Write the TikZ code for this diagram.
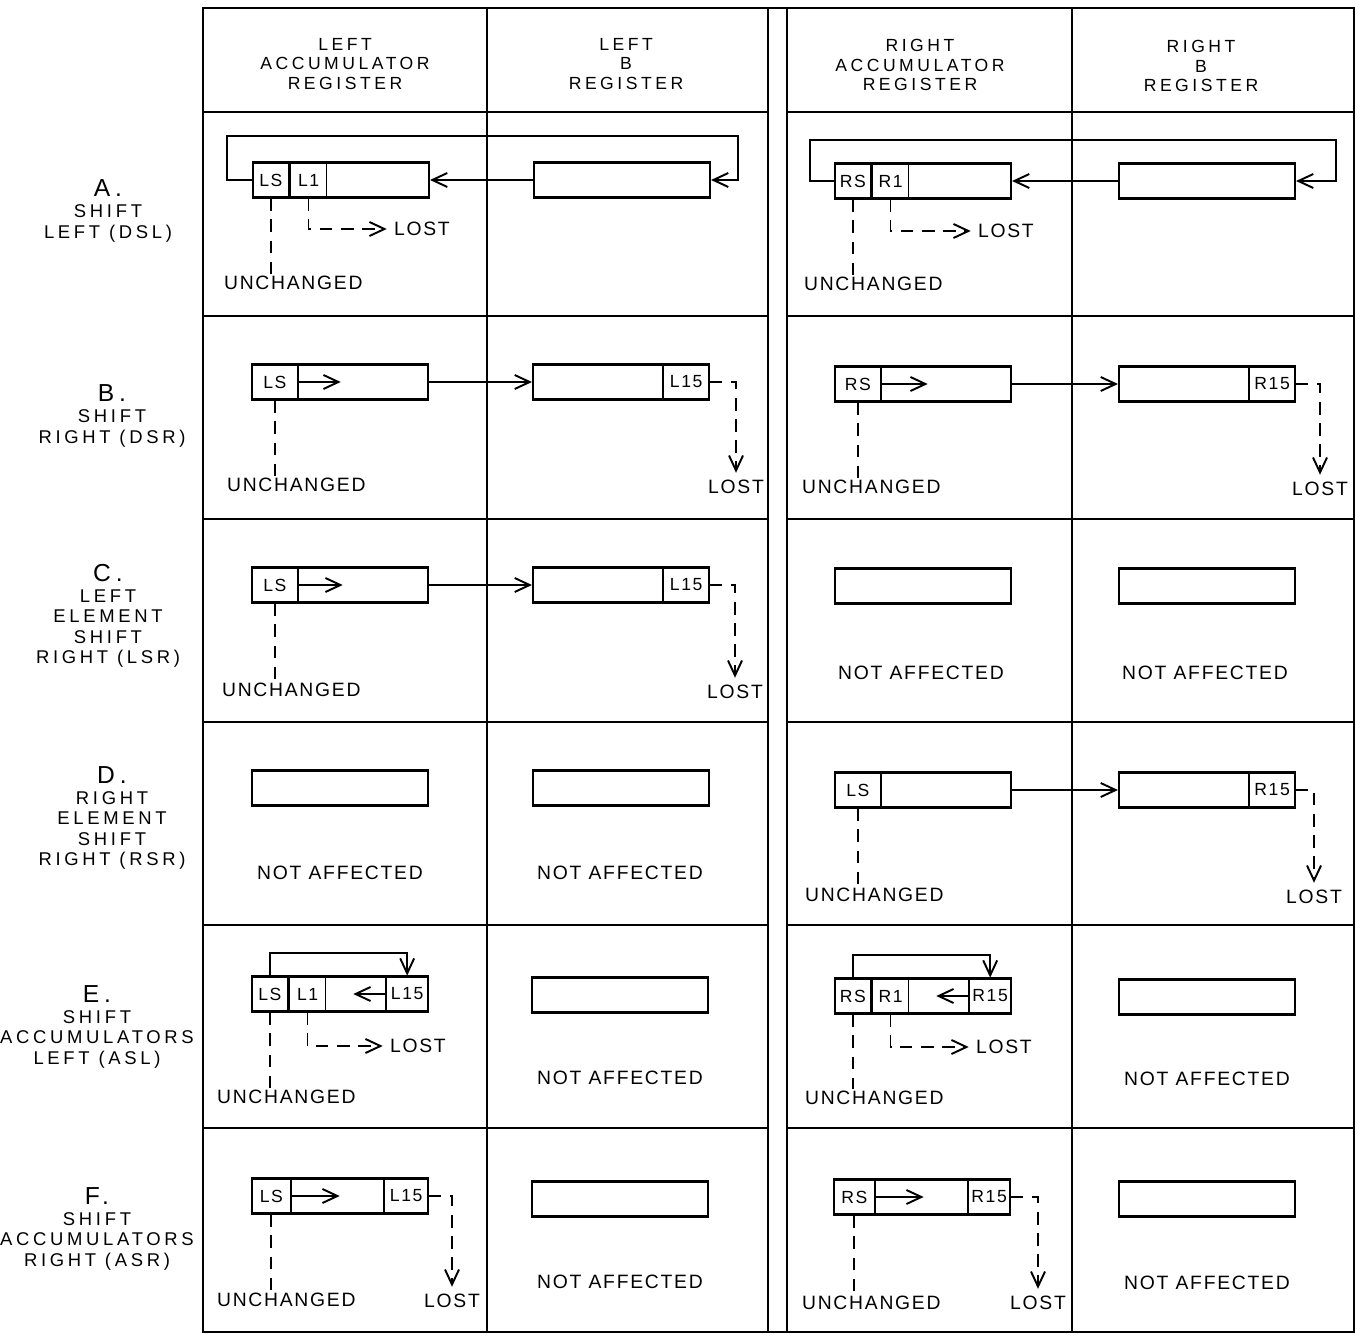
\documentclass[tikz,border=0pt]{standalone}
\usepackage{fontspec}
\setmainfont{Liberation Sans}
\newfontfamily\hdfont{Liberation Sans}[LetterSpace=20]
\newfontfamily\txfont{Liberation Sans}[LetterSpace=9]
\usetikzlibrary{arrows.meta}
\begin{document}
\begin{tikzpicture}[x=0.02cm, y=-0.02cm,
  reg/.style={draw,line width=1.2pt,minimum width=3.52cm,minimum height=0.7cm,inner sep=0pt},
  cell/.style={draw,line width=1pt,minimum height=0.7cm,minimum width=0.72cm,inner sep=0pt,font=\txfont\fontsize{10}{12}\selectfont},
  wcell/.style={cell,minimum width=0.92cm},
  arr/.style={line width=1pt,-{Straight Barb[length=3mm,width=2.8mm,line width=1.1pt]}},
  dsh/.style={line width=1pt,dash pattern=on 7pt off 5pt},
  dsha/.style={dsh,arr,shorten >=3pt},
  note/.style={font=\txfont\fontsize{11}{13}\selectfont,inner sep=1pt},
  head/.style={font=\hdfont\fontsize{10}{11.2}\selectfont,align=center},
  rowlbl/.style={font=\hdfont\fontsize{10.5}{11.7}\selectfont,align=center},
  gridline/.style={line width=1.3pt}]
\useasboundingbox (0,0) rectangle (1355,1334);
% table frame
\draw[gridline] (203,8) rectangle (1354,1332);
\foreach \x in {487,768,787,1072} \draw[gridline] (\x,8) -- (\x,1332);
\foreach \y in {112,316,519,722,925,1128} {
  \draw[gridline] (203,\y) -- (768,\y);
  \draw[gridline] (787,\y) -- (1354,\y);
}
% column heads
\node[head] (h1) at (345,64) {LEFT\\ACCUMULATOR\\REGISTER};
\node[head] (h2) at (626,64) {LEFT\\B\\REGISTER};
\node[head] (h3) at (920,65) {RIGHT\\ACCUMULATOR\\REGISTER};
\node[head] (h4) at (1201,66) {RIGHT\\B\\REGISTER};
% row heads
\node[rowlbl] (ra) at (108,211) {{\fontsize{14}{14}\selectfont A.}\\SHIFT\\LEFT (DSL)};
\node[rowlbl] (rb) at (112,416) {{\fontsize{14}{14}\selectfont B.}\\SHIFT\\RIGHT (DSR)};
\node[rowlbl] (rc) at (108,616) {{\fontsize{14}{14}\selectfont C.}\\LEFT\\ELEMENT\\SHIFT\\RIGHT (LSR)};
\node[rowlbl] (rd) at (112,818) {{\fontsize{14}{14}\selectfont D.}\\RIGHT\\ELEMENT\\SHIFT\\RIGHT (RSR)};
\node[rowlbl] (re) at (97,1027) {{\fontsize{14}{14}\selectfont E.}\\SHIFT\\ACCUMULATORS\\LEFT (ASL)};
\node[rowlbl] (rf) at (97,1229) {{\fontsize{14}{14}\selectfont F.}\\SHIFT\\ACCUMULATORS\\RIGHT (ASR)};
% row A: shift left
\node[reg] (a1) at (341,180) {};
\node[cell,anchor=west] (a1s) at (a1.west) {LS};
\node[cell,anchor=west] (a1a) at (a1s.east) {L1};
\node[reg] (a2) at (622,180) {};
\coordinate (ka) at (738,136);
\draw[arr] (a2.west) -- (a1.east);
\draw[arr] (a1.west) -- ++(-25,0) |- (ka) |- (a2.east);
\node[note,anchor=west] (a1u) at (222,283) {UNCHANGED};
\node[note,anchor=west] (a1l) at (392,229) {LOST};
\draw[dsh] (a1s.south) -- (a1s.south |- a1u.north);
\draw[dsha] (a1a.south) |- (a1l.west);
\node[reg] (a3) at (923,181) {};
\node[cell,anchor=west] (a3s) at (a3.west) {RS};
\node[cell,anchor=west] (a3a) at (a3s.east) {R1};
\node[reg] (a4) at (1207,181) {};
\coordinate (kb) at (1336,140);
\draw[arr] (a4.west) -- (a3.east);
\draw[arr] (a3.west) -- ++(-24,0) |- (kb) |- (a4.east);
\node[note,anchor=west] (a3u) at (802,284) {UNCHANGED};
\node[note,anchor=west] (a3l) at (976,231) {LOST};
\draw[dsh] (a3s.south) -- (a3s.south |- a3u.north);
\draw[dsha] (a3a.south) |- (a3l.west);
% row B: shift right
\node[reg] (b1) at (340,382) {};
\node[wcell,anchor=west] (b1s) at (b1.west) {LS};
\draw[arr] (b1s.east) -- ++(42,0);
\node[reg] (b2) at (621,382) {};
\node[wcell,anchor=east] (b2c) at (b2.east) {L15};
\draw[arr] (b1.east) -- (b2.west);
\node[note,anchor=west] (b1u) at (225,485) {UNCHANGED};
\node[note] (b2l) at (736,487) {LOST};
\draw[dsh] (b1s.south) -- (b1s.south |- b1u.north);
\draw[dsha] (b2c.east) -| (b2l.north);
\node[reg] (b3) at (923,384) {};
\node[wcell,anchor=west] (b3s) at (b3.west) {RS};
\draw[arr] (b3s.east) -- ++(46,0);
\node[reg] (b4) at (1207,384) {};
\node[wcell,anchor=east] (b4c) at (b4.east) {R15};
\draw[arr] (b3.east) -- (b4.west);
\node[note,anchor=west] (b3u) at (800,487) {UNCHANGED};
\node[note] (b4l) at (1320,489) {LOST};
\draw[dsh] (b3s.south) -- (b3s.south |- b3u.north);
\draw[dsha] (b4c.east) -| (b4l.north);
% row C: left element shift right
\node[reg] (c1) at (340,585) {};
\node[wcell,anchor=west] (c1s) at (c1.west) {LS};
\draw[arr] (c1s.east) -- ++(44,0);
\node[reg] (c2) at (621,585) {};
\node[wcell,anchor=east] (c2c) at (c2.east) {L15};
\draw[arr] (c1.east) -- (c2.west);
\node[note,anchor=west] (c1u) at (220,690) {UNCHANGED};
\node[note] (c2l) at (735,692) {LOST};
\draw[dsh] (c1s.south) -- (c1s.south |- c1u.north);
\draw[dsha] (c2c.east) -| (c2l.north);
\node[reg] (c3) at (923,586) {};
\node[reg] (c4) at (1207,586) {};
\node[note] (c3n) at (921,673) {NOT AFFECTED};
\node[note] (c4n) at (1205,673) {NOT AFFECTED};
% row D: right element shift right
\node[reg] (d1) at (340,788) {};
\node[reg] (d2) at (621,788) {};
\node[note] (d1n) at (340,873) {NOT AFFECTED};
\node[note] (d2n) at (620,873) {NOT AFFECTED};
\node[reg] (d3) at (923,790) {};
\node[wcell,anchor=west] (d3s) at (d3.west) {LS};
\node[reg] (d4) at (1207,790) {};
\node[wcell,anchor=east] (d4c) at (d4.east) {R15};
\draw[arr] (d3.east) -- (d4.west);
\node[note,anchor=west] (d3u) at (803,895) {UNCHANGED};
\node[note] (d4l) at (1314,897) {LOST};
\draw[dsh] (d3s.south) -- (d3s.south |- d3u.north);
\draw[dsha] (d4c.east) -| (d4l.north);
% row E: shift accumulators left
\node[reg] (e1) at (340,994) {};
\node[cell,anchor=west] (e1s) at (e1.west) {LS};
\node[cell,anchor=west] (e1a) at (e1s.east) {L1};
\node[cell,anchor=east,minimum width=0.84cm] (e1c) at (e1.east) {L15};
\draw[arr] (e1s.north) -- ++(0,-23) -| (e1c.north);
\draw[arr] (e1c.west) -- ++(-32,0);
\node[note,anchor=west] (e1u) at (215,1097) {UNCHANGED};
\node[note,anchor=west] (e1l) at (388,1046) {LOST};
\draw[dsh] (e1s.south) -- (e1s.south |- e1u.north);
\draw[dsha] (e1a.south) |- (e1l.west);
\node[reg] (e2) at (620,995) {};
\node[note] (e2n) at (620,1078) {NOT AFFECTED};
\node[reg] (e3) at (923,996) {};
\node[cell,anchor=west] (e3s) at (e3.west) {RS};
\node[cell,anchor=west] (e3a) at (e3s.east) {R1};
\node[cell,anchor=east,minimum width=0.84cm] (e3c) at (e3.east) {R15};
\draw[arr] (e3s.north) -- ++(0,-23) -| (e3c.north);
\draw[arr] (e3c.west) -- ++(-32,0);
\node[note,anchor=west] (e3u) at (803,1098) {UNCHANGED};
\node[note,anchor=west] (e3l) at (974,1047) {LOST};
\draw[dsh] (e3s.south) -- (e3s.south |- e3u.north);
\draw[dsha] (e3a.south) |- (e3l.west);
\node[reg] (e4) at (1207,997) {};
\node[note] (e4n) at (1207,1079) {NOT AFFECTED};
% row F: shift accumulators right
\node[reg] (f1) at (340,1196) {};
\node[cell,anchor=west,minimum width=0.78cm] (f1s) at (f1.west) {LS};
\node[cell,anchor=east,minimum width=0.88cm] (f1c) at (f1.east) {L15};
\draw[arr] (f1s.east) -- ++(48,0);
\node[note,anchor=west] (f1u) at (215,1300) {UNCHANGED};
\node[note] (f1l) at (452,1301) {LOST};
\draw[dsh] (f1s.south) -- (f1s.south |- f1u.north);
\draw[dsha] (f1c.east) -| (f1l.north);
\node[reg] (f2) at (620,1199) {};
\node[note] (f2n) at (620,1282) {NOT AFFECTED};
\node[reg] (f3) at (922,1197) {};
\node[cell,anchor=west,minimum width=0.82cm] (f3s) at (f3.west) {RS};
\node[cell,anchor=east,minimum width=0.84cm] (f3c) at (f3.east) {R15};
\draw[arr] (f3s.east) -- ++(48,0);
\node[note,anchor=west] (f3u) at (800,1303) {UNCHANGED};
\node[note] (f3l) at (1038,1303) {LOST};
\draw[dsh] (f3s.south) -- (f3s.south |- f3u.north);
\draw[dsha] (f3c.east) -| (f3l.north);
\node[reg] (f4) at (1207,1199) {};
\node[note] (f4n) at (1207,1283) {NOT AFFECTED};
\end{tikzpicture}
\end{document}
